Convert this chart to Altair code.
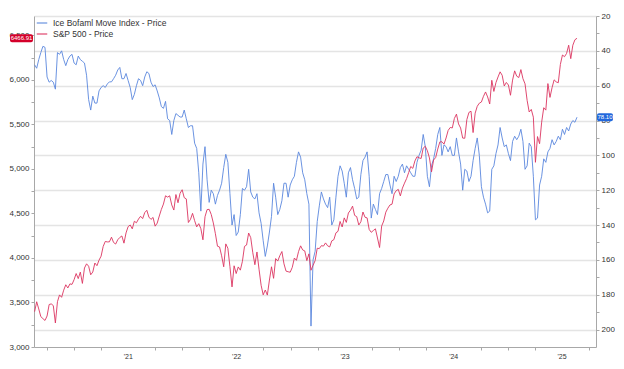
import altair as alt
import pandas as pd

# ---------------- data (weekly closes) ----------------
start_date = "2020-08-21"

spx_2020 = [3397, 3508, 3427, 3341, 3319, 3298, 3348, 3477, 3484, 3465,
            3270, 3509, 3585, 3558, 3638, 3699, 3663, 3709, 3703, 3756]
spx_2021 = [3825, 3768, 3841, 3714, 3887, 3934, 3907, 3811, 3842, 3943,
            3913, 3975, 4020, 4129, 4185, 4180, 4181, 4233, 4174, 4156,
            4204, 4230, 4247, 4166, 4281, 4352, 4370, 4327, 4412, 4395,
            4437, 4468, 4442, 4509, 4535, 4459, 4433, 4455, 4357, 4391,
            4471, 4545, 4605, 4698, 4683, 4698, 4595, 4538, 4712, 4620,
            4726, 4766]
spx_2022 = [4677, 4663, 4398, 4432, 4501, 4419, 4349, 4385, 4329, 4204,
            4463, 4543, 4546, 4488, 4393, 4272, 4132, 4123, 4024, 3901,
            4158, 4109, 3901, 3675, 3912, 3825, 3899, 3863, 3962, 4130,
            4145, 4280, 4228, 4058, 3924, 4067, 3873, 3693, 3586, 3640,
            3583, 3752, 3901, 3771, 3993, 3965, 4026, 4072, 3934, 3852,
            3845, 3840]
spx_2023 = [3895, 3999, 3973, 4071, 4136, 4090, 4079, 3970, 4046, 3862,
            3917, 3971, 4109, 4105, 4138, 4133, 4169, 4136, 4124, 4192,
            4205, 4282, 4299, 4410, 4348, 4450, 4399, 4505, 4536, 4582,
            4478, 4464, 4370, 4406, 4516, 4457, 4450, 4320, 4288, 4308,
            4327, 4224, 4117, 4358, 4415, 4514, 4559, 4595, 4604, 4719,
            4755, 4770]
spx_2024 = [4697, 4784, 4840, 4891, 4959, 5027, 5006, 5089, 5137, 5124,
            5117, 5234, 5254, 5204, 5123, 4967, 5100, 5128, 5223, 5303,
            5305, 5278, 5347, 5432, 5465, 5460, 5567, 5615, 5505, 5459,
            5346, 5344, 5554, 5634, 5648, 5408, 5626, 5703, 5738, 5751,
            5815, 5864, 5808, 5729, 5995, 5870, 5969, 6032, 6090, 6051,
            5931, 5971]
spx_2025 = [5942, 5827, 5997, 6101, 6041, 6026, 6115, 6013, 5955, 5770,
            5639, 5668, 5581, 5074, 5363, 5283, 5525, 5687, 5660, 5958,
            5803, 5912, 6000, 5977, 5968, 6173, 6279, 6260, 6297, 6389,
            6238, 6389, 6450, 6466.91]

move_a = [48, 50, 45, 41, 37.4, 38, 55, 58, 57, 58,
          62, 41, 42, 40, 45, 48.5, 45, 43, 42, 47,
          48, 43, 45, 46, 47, 54, 68, 74, 66, 70,
          70, 63, 61, 60, 61, 59, 57.8, 57.8, 56, 54,
          51, 49.5, 56, 56, 53, 57, 61, 68, 65, 60,
          56, 57, 60, 55, 52, 53, 58, 60.5, 59.5, 63,
          67, 72, 73, 69, 79, 80, 88, 80, 76, 77]
move_b = [78, 78, 74, 79, 84, 83, 83, 93, 96, 110,
          132, 105, 95, 114, 127, 120, 122, 128, 123, 120,
          116, 107, 99.4, 104, 122, 140, 134, 146, 144, 134,
          119, 120, 118, 108, 121, 124, 125, 122, 133, 139,
          149, 158, 152, 144, 135, 116, 124, 134, 131, 126,
          116, 116, 124, 117, 114, 112, 104, 98, 101, 110,
          114, 122, 128, 198, 160, 155, 138, 129, 121, 125]
move_c = [128, 130, 124, 140, 137, 124, 112, 106, 109, 116,
          124, 110, 107, 114, 119, 125, 124, 111, 103, 101,
          98, 112, 136, 128, 131, 134, 122, 119, 115, 111,
          111, 117, 122, 112, 115, 112, 107, 105, 110, 106,
          108, 110, 112, 112, 104, 100, 97, 88, 95, 112,
          118, 106, 102, 96, 88, 84, 100, 94, 95, 98]
move_d = [95, 100, 100, 90, 98, 105, 120, 108, 109, 115,
          112, 103, 96, 90, 100, 118, 124, 128, 133, 132,
          108, 106, 99, 94, 84, 90, 95, 94, 99, 103,
          92, 89, 91, 89, 85, 92, 108, 106, 93, 95,
          112, 137, 136, 117, 112, 102, 104, 98, 96, 91,
          94, 92, 89, 91, 85, 88, 84, 86, 82, 80,
          81, 78.1]

series_names = ["Ice Bofaml Move Index - Price", "S&P 500 - Price"]
series_colors = ["#5b87de", "#dc3560"]
badge_colors = ["#2368dc", "#d4002a"]

spx_ticks = list(range(3000, 6501, 250))
move_ticks = list(range(20, 201, 10))
x_domain = ["2020-08-19", "2025-10-25"]
x_tick_years = [2020, 2021, 2022, 2023, 2024, 2025]
x_tick_months = [1, 4, 7, 10]

# ---------------- build tables ----------------
spx = spx_2020 + spx_2021 + spx_2022 + spx_2023 + spx_2024 + spx_2025
move = move_a + move_b + move_c + move_d
dates = pd.date_range(start_date, periods=len(spx), freq="7D")

df_spx = pd.DataFrame({"date": dates, "value": spx, "series": series_names[1]})
df_move = pd.DataFrame({"date": dates, "value": move, "series": series_names[0]})
spx_last = pd.DataFrame({"value": [spx[-1]], "label": [f"{spx[-1]:.2f}"]})
move_last = pd.DataFrame({"value": [move[-1]], "label": [f"{move[-1]:.2f}"]})

x_values = [alt.DateTime(year=y, month=m, date=1)
            for y in x_tick_years for m in x_tick_months
            if not (y == 2020 and m < 10)]

W, H = 562, 331
FONT = "Liberation Sans"
AXIS_GREY = "#a8a8a8"

x_enc = alt.X(
    "date:T",
    scale=alt.Scale(domain=x_domain),
    title=None,
    axis=alt.Axis(
        values=x_values,
        labelExpr="month(datum.value) == 6 ? timeFormat(datum.value, \"'%y\") : ''",
        tickOpacity={"condition": {"test": "month(datum.value) == 6", "value": 0}, "value": 1},
        tickSize=3, tickColor=AXIS_GREY, domainColor=AXIS_GREY,
        labelFontSize=7, labelColor="#333333", labelPadding=2,
        labelFont=FONT, grid=False, labelFlush=False,
    ),
)

spx_y = alt.Y(
    "value:Q",
    scale=alt.Scale(domain=[3000, 6717], nice=False, zero=False),
    title=None,
    axis=alt.Axis(
        orient="left", values=spx_ticks,
        labelExpr="datum.value % 500 == 0 ? format(datum.value, ',') : ''",
        tickSize=3, tickColor=AXIS_GREY, domainColor=AXIS_GREY,
        labelFontSize=8, labelColor="#333333", labelPadding=2,
        labelFont=FONT, grid=False, labelFlush=False,
    ),
)

move_y = alt.Y(
    "value:Q",
    scale=alt.Scale(domain=[20, 210], nice=False, zero=False, reverse=True),
    title=None,
    axis=alt.Axis(
        orient="right", values=move_ticks,
        labelExpr="datum.value % 20 == 0 ? datum.label : ''",
        tickSize=3, tickColor=AXIS_GREY, domainColor=AXIS_GREY,
        labelFontSize=8, labelColor="#333333", labelPadding=2,
        labelFont=FONT, grid=True, gridColor="#e4e4e4", gridWidth=1.5,
        gridOpacity={"condition": {"test": "datum.value % 20 == 0", "value": 1}, "value": 0},
        labelFlush=False,
    ),
)

color_enc = alt.Color(
    "series:N",
    scale=alt.Scale(domain=series_names, range=series_colors),
    legend=alt.Legend(
        orient="none", legendX=2, legendY=1, title=None,
        symbolType="stroke", symbolSize=110, symbolStrokeWidth=1.2,
        labelFontSize=8.5, labelColor="#333333", labelFont=FONT,
        rowPadding=0, padding=0, labelOffset=5,
    ),
)

move_line = alt.Chart(df_move).mark_line(strokeWidth=1, opacity=0.9).encode(
    x=x_enc, y=move_y, color=color_enc)
move_badge = alt.Chart(move_last).mark_rect(
    color=badge_colors[0], height=8, cornerRadius=2).encode(
    x=alt.value(W + 1), x2=alt.value(W + 17), y=move_y)
move_badge_text = alt.Chart(move_last).mark_text(
    color="white", fontSize=6, font=FONT, align="center", baseline="middle").encode(
    x=alt.value(W + 9), y=move_y, text="label:N")

spx_line = alt.Chart(df_spx).mark_line(strokeWidth=1, opacity=0.9).encode(
    x=x_enc, y=spx_y, color=color_enc)
spx_badge = alt.Chart(spx_last).mark_rect(
    color=badge_colors[1], height=8, cornerRadius=2).encode(
    x=alt.value(-24), x2=alt.value(-1), y=spx_y)
spx_badge_text = alt.Chart(spx_last).mark_text(
    color="white", fontSize=6, font=FONT, align="center", baseline="middle").encode(
    x=alt.value(-12.5), y=spx_y, text="label:N")

move_group = alt.layer(move_line, move_badge, move_badge_text)
spx_group = alt.layer(spx_line, spx_badge, spx_badge_text)

chart = alt.layer(move_group, spx_group).resolve_scale(
    y="independent", color="shared"
).properties(
    width=W, height=H,
    padding={"top": 4, "left": 0, "right": 0, "bottom": 0},
    background="white",
).configure_view(stroke=None)

chart.save("out.html", embed_options={"renderer": "svg", "actions": False})
